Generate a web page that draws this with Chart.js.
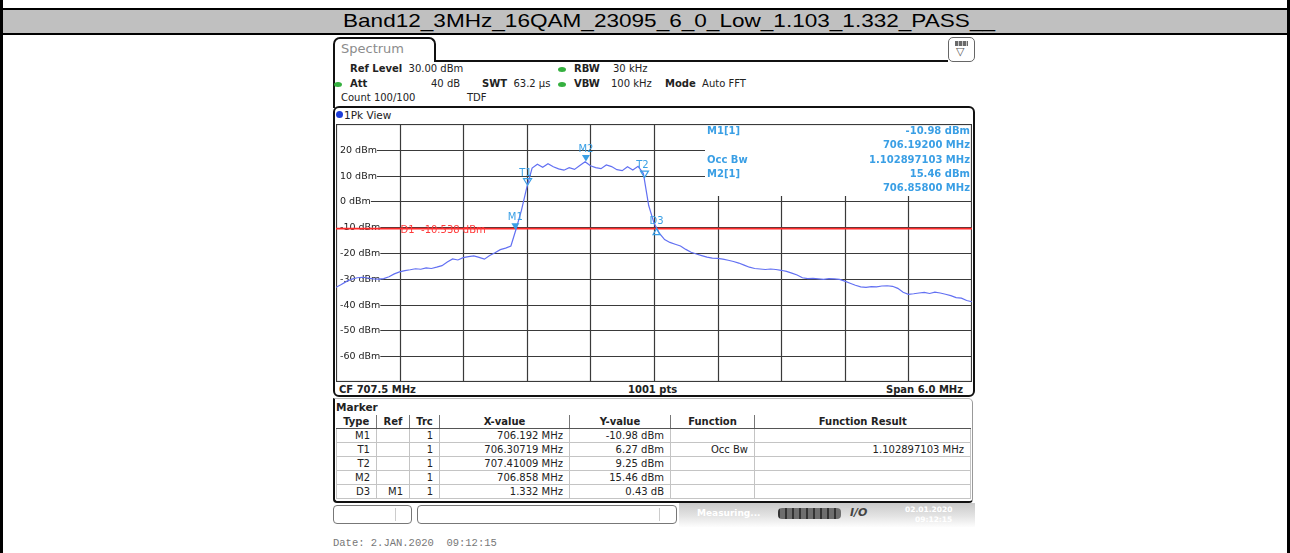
<!DOCTYPE html>
<html>
<head>
<meta charset="utf-8">
<title>Band12 occupied bandwidth</title>
<script src="https://cdn.jsdelivr.net/npm/chart.js@4.4.1/dist/chart.umd.min.js"></script>
<style>
  body { margin:0; width:1290px; height:553px; position:relative; overflow:hidden; background:#fff;
         font-family:"DejaVu Sans", Verdana, sans-serif; font-size:10px; color:#222; }
  .a { position:absolute; white-space:nowrap; }
  .b { font-weight:bold; }
  .hdr { height:14px; line-height:14px; }
  .dot { position:absolute; width:8px; height:5px; border-radius:50%; background:#35b03f; }
  #mk { position:absolute; left:336px; top:415px; border-collapse:collapse; table-layout:fixed; font-size:10px; }
  #mk td, #mk th { padding:0 6px 0 0; text-align:right; border:1px solid #c4c4c4; height:13px; line-height:13px; overflow:hidden; }
  #mk th { text-align:center; padding:0; border:none; border-left:1.5px solid #777; border-bottom:1.5px solid #555; }
  #mk th:first-child { border-left:none; }
</style>
</head>
<body>

<!-- report cell with the test name -->
<div class="a" style="left:0;top:10px;width:1290px;height:23px;background:#c0c0c0"></div>
<div class="a" style="left:0;top:8px;width:1290px;height:2px;background:#000"></div>
<div class="a" style="left:0;top:33px;width:1290px;height:2px;background:#000"></div>
<div id="title" class="a" style="left:343px;top:9px;height:24px;line-height:24px;font-family:'Liberation Sans',Arial,sans-serif;font-size:19px;color:#000;transform-origin:0 0">Band12_3MHz_16QAM_23095_6_0_Low_1.103_1.332_PASS__</div>
<div class="a" style="left:0;top:0;width:3px;height:553px;background:#000"></div>
<div class="a" style="left:1287px;top:0;width:3px;height:553px;background:#000"></div>

<!-- analyzer tab and settings -->
<div class="a" style="left:333px;top:37px;width:103px;height:25px;box-sizing:border-box;border:2px solid #111;border-bottom:none;border-radius:7px 7px 0 0;background:#fff"></div>
<div class="a" style="left:341px;top:41px;font-size:13px;color:#8c8c8c">Spectrum</div>
<div class="a" style="left:434px;top:60px;width:514px;height:2px;background:#111"></div>
<div class="a" style="left:333px;top:60px;width:2px;height:48px;background:#111"></div>
<div class="a" style="left:948px;top:37px;width:27px;height:25px;box-sizing:border-box;border:1.5px solid #666;border-radius:5px;background:#fff"></div>
<div class="a" style="left:955px;top:41px;width:13px;height:5px;background:repeating-linear-gradient(90deg,#6a6a6a 0 3px,#c8c8c8 3px 4px)"></div>
<div class="a" style="left:956px;top:45px;font-size:11px;color:#555">&#9661;</div>

<div class="a hdr" style="left:350px;top:62px"><span class="b">Ref Level</span>&nbsp; 30.00 dBm</div>
<div class="dot" style="left:558px;top:67px"></div>
<div class="a hdr b" style="left:574px;top:62px">RBW</div>
<div class="a hdr" style="left:613px;top:62px">30 kHz</div>

<div class="dot" style="left:334px;top:82px"></div>
<div class="a hdr b" style="left:350px;top:77px">Att</div>
<div class="a hdr" style="left:431px;top:77px">40 dB</div>
<div class="a hdr" style="left:482px;top:77px"><span class="b">SWT</span>&nbsp; 63.2 µs</div>
<div class="dot" style="left:558px;top:82px"></div>
<div class="a hdr b" style="left:574px;top:77px">VBW</div>
<div class="a hdr" style="left:611px;top:77px">100 kHz</div>
<div class="a hdr" style="left:665px;top:77px"><span class="b">Mode</span>&nbsp; Auto FFT</div>

<div class="a hdr" style="left:341px;top:91px">Count 100/100</div>
<div class="a hdr" style="left:467px;top:91px">TDF</div>

<!-- trace window -->
<div class="a" style="left:333px;top:106px;width:642px;height:291px;box-sizing:border-box;border:2px solid #111;border-radius:6px;background:#fff"></div>
<div class="a" style="left:336px;top:111px;width:7px;height:7px;border-radius:50%;background:#1c3bd8"></div>
<div class="a" style="left:344px;top:108px;font-size:10.5px;line-height:14px">1Pk View</div>
<canvas id="spec" class="a" style="left:336px;top:124px" width="636" height="258"></canvas>
<div class="a b" style="left:339px;top:383px;line-height:14px">CF 707.5 MHz</div>
<div class="a b" style="left:628px;top:383px;line-height:14px">1001 pts</div>
<div class="a b" style="left:886px;top:383px;line-height:14px">Span 6.0 MHz</div>

<!-- marker table window -->
<div class="a" style="left:333px;top:398px;width:640px;height:105px;box-sizing:border-box;border-left:2px solid #111;border-right:1.5px solid #999;border-top:1px solid #bbb;border-bottom:2px solid #111;border-radius:0 5px 4px 4px;background:#fff"></div>
<div class="a b" style="left:336px;top:400px;font-size:10.5px;line-height:14px">Marker</div>
<table id="mk"></table>

<!-- status bar -->
<div class="a" style="left:333px;top:505px;width:79px;height:19px;box-sizing:border-box;border:1px solid #777;border-radius:4px"></div>
<div class="a" style="left:395px;top:508px;width:1px;height:13px;background:#ccc"></div>
<div class="a" style="left:417px;top:505px;width:260px;height:19px;box-sizing:border-box;border:1px solid #777;border-radius:4px"></div>
<div class="a" style="left:659px;top:508px;width:1px;height:13px;background:#ccc"></div>
<div class="a" style="left:679px;top:503px;width:296px;height:24px;background:linear-gradient(#c9c9c9,#e4e4e4 55%,#fdfdfd)"></div>
<div class="a b" style="left:697px;top:508px;font-size:9px;color:#fff">Measuring...</div>
<div class="a" style="left:778px;top:508px;width:63px;height:11px;border-radius:4px;background:repeating-linear-gradient(90deg,#333 0 2px,#6e6e6e 2px 7px)"></div>
<div class="a b" style="left:850px;top:506px;font-size:11px;font-style:italic;color:#444">I/O</div>
<div class="a b" style="left:905px;top:505px;font-size:7.5px;color:#fff">02.01.2020</div>
<div class="a b" style="left:915px;top:515px;font-size:7.5px;color:#fff">09:12:15</div>

<div class="a" style="left:333px;top:537px;font-family:'Liberation Mono',monospace;font-size:10.5px;color:#777">Date: 2.JAN.2020&nbsp; 09:12:15</div>

<script>
// sweep settings
const freqStart = 704.5;   // MHz, CF 707.5 - span/2
const freqStop = 710.5;
const freqStep = 0.05;
const refLevel = 30;
const bottomLevel = -70;

// trace 1 (1Pk), resampled every 50 kHz, dBm
const traceLevels = [
  -33.3, -32.2, -31.0, -30.1, -29.6, -29.4, -29.7, -30.0, -30.1, -29.9,
  -29.2, -28.1, -27.3, -26.8, -26.5, -26.1, -26.3, -25.8, -26.0, -25.5,
  -24.9, -23.5, -22.3, -22.7, -21.8, -21.4, -21.1, -21.7, -22.4, -21.0,
  -19.9, -18.7, -18.1, -17.3, -10.6, -3.4, 5.4, 12.9, 14.4, 13.2,
  14.6, 13.4, 12.6, 12.1, 13.1, 12.4, 13.9, 15.4, 13.8, 13.1,
  12.7, 14.1, 13.5, 12.3, 11.9, 13.4, 12.2, 13.6, 10.8, -1.6,
  -8.4, -12.3, -14.8, -15.9, -16.6, -17.3, -18.6, -19.7, -20.4, -21.0,
  -21.6, -22.0, -22.1, -22.4, -22.8, -23.3, -23.9, -24.7, -25.5, -26.0,
  -26.2, -26.4, -26.2, -26.4, -26.7, -27.1, -27.8, -28.5, -29.6, -29.9,
  -29.8, -30.0, -30.2, -29.9, -30.0, -30.2, -30.9, -31.7, -32.5, -33.1,
  -33.3, -33.0, -33.1, -32.8, -32.7, -32.9, -33.7, -35.2, -36.0, -35.8,
  -35.5, -35.3, -35.7, -35.2, -35.5, -36.0, -36.5, -37.3, -37.5, -38.4,
  -38.9
];

// grid divisions
const xGrid = [705.1, 705.7, 706.3, 706.9, 707.5, 708.1, 708.7, 709.3, 709.9];
const yTicks = [20, 10, 0, -10, -20, -30, -40, -50, -60];

// marker table
const mkType = ['M1', 'T1', 'T2', 'M2', 'D3'];
const mkRef = ['', '', '', '', 'M1'];
const mkTrace = [1, 1, 1, 1, 1];
const mkX = [706.192, 706.30719, 707.41009, 706.858, 1.332];
const mkXDigits = [3, 5, 5, 3, 3];
const mkY = [-10.98, 6.27, 9.25, 15.46, 0.43];
const mkYUnit = ['dBm', 'dBm', 'dBm', 'dBm', 'dB'];
const mkFunc = ['', 'Occ Bw', '', '', ''];
const occBw = 1.102897103;   // MHz
const displayLineD1 = -10.538;

const markerBlue = '#3a9fe5';

// stretch the report title across its cell
const title = document.getElementById('title');
title.style.transform = 'scaleX(' + (652 / title.getBoundingClientRect().width) + ')';

// marker table rows
const colW = [40, 33, 30, 130, 101, 84, 216];
let html = '<colgroup>' + colW.map(w => '<col style="width:' + w + 'px">').join('') + '</colgroup>';
html += '<tr>' + ['Type', 'Ref', 'Trc', 'X-value', 'Y-value', 'Function', 'Function Result']
  .map(h => '<th>' + h + '</th>').join('') + '</tr>';
mkType.forEach((t, i) => {
  html += '<tr><td>' + t + '</td><td>' + mkRef[i] + '</td><td>' + mkTrace[i] + '</td>' +
    '<td>' + mkX[i].toFixed(mkXDigits[i]) + ' MHz</td>' +
    '<td>' + mkY[i].toFixed(2) + ' ' + mkYUnit[i] + '</td>' +
    '<td>' + mkFunc[i] + '</td>' +
    '<td>' + (mkFunc[i] ? occBw.toFixed(9) + ' MHz' : '') + '</td></tr>';
});
document.getElementById('mk').innerHTML = html;

// absolute marker positions (delta markers are relative to their reference)
function markerPos(i) {
  if (mkRef[i]) {
    const r = mkType.indexOf(mkRef[i]);
    return { f: mkX[r] + mkX[i], l: mkY[r] + mkY[i] };
  }
  return { f: mkX[i], l: mkY[i] };
}

const tracePoints = traceLevels.map((v, i) => ({ x: freqStart + i * freqStep, y: v }));

const overlay = {
  id: 'specOverlay',
  beforeDatasetsDraw(chart) {
    const { ctx, chartArea: a, scales: { x, y } } = chart;
    const boxLeft = a.right - 267;
    const boxBottom = a.top + 72;
    ctx.save();
    ctx.strokeStyle = '#3a3a3a';
    ctx.lineWidth = 1.2;
    const seg = (x1, y1, x2, y2) => { ctx.beginPath(); ctx.moveTo(x1, y1); ctx.lineTo(x2, y2); ctx.stroke(); };

    xGrid.forEach(f => {
      const px = Math.round(x.getPixelForValue(f)) + 0.5;
      seg(px, px > boxLeft ? boxBottom : a.top, px, a.bottom);
    });

    ctx.font = '9.5px "DejaVu Sans"';
    ctx.textBaseline = 'middle';
    ctx.fillStyle = '#222';
    yTicks.forEach(v => {
      const py = Math.round(y.getPixelForValue(v)) + 0.5;
      const label = v + ' dBm';
      ctx.fillText(label, a.left + 4, py);
      const start = a.left + 4 + ctx.measureText(label).width;
      seg(start, py, py < boxBottom ? boxLeft : a.right, py);
    });
    ctx.strokeRect(a.left + 0.5, a.top + 0.5, a.width - 1, a.height - 1);

    // display line D1
    const dy = y.getPixelForValue(displayLineD1);
    ctx.strokeStyle = '#ff2a2a';
    ctx.lineWidth = 1.6;
    seg(a.left, dy, a.right, dy);
    ctx.fillStyle = '#ff3a3a';
    ctx.font = '10px "DejaVu Sans"';
    ctx.fillText('D1  ' + displayLineD1.toFixed(3) + ' dBm', x.getPixelForValue(705.1) + 1, dy + 1.5);
    ctx.restore();
  },
  afterDatasetsDraw(chart) {
    const { ctx, chartArea: a, scales: { x, y } } = chart;
    ctx.save();
    ctx.fillStyle = markerBlue;
    ctx.strokeStyle = markerBlue;
    ctx.lineWidth = 1.2;
    ctx.font = '10px "DejaVu Sans"';
    ctx.textAlign = 'center';
    ctx.textBaseline = 'middle';
    mkType.forEach((t, i) => {
      const p = markerPos(i);
      const px = x.getPixelForValue(p.f);
      const py = y.getPixelForValue(p.l);
      ctx.beginPath();
      if (t[0] === 'D') {
        ctx.moveTo(px, py); ctx.lineTo(px - 3.5, py + 6); ctx.lineTo(px + 3.5, py + 6); ctx.closePath();
        ctx.stroke();
        ctx.fillText(t, px, py - 7);
      } else {
        ctx.moveTo(px, py); ctx.lineTo(px - 4, py - 6.5); ctx.lineTo(px + 4, py - 6.5); ctx.closePath();
        if (t[0] === 'M') ctx.fill(); else ctx.stroke();
        ctx.fillText(t, px - (t[0] === 'T' ? 2 : 0), py - 12);
      }
    });

    // marker readout block
    const m1 = markerPos(0), m2 = markerPos(3);
    const lx = a.right - 265, rx = a.right - 2;
    const rows = [a.top + 7, a.top + 21, a.top + 36, a.top + 50, a.top + 64];
    ctx.font = 'bold 10px "DejaVu Sans"';
    ctx.textAlign = 'left';
    ctx.fillText('M1[1]', lx, rows[0]);
    ctx.fillText('Occ Bw', lx, rows[2]);
    ctx.fillText('M2[1]', lx, rows[3]);
    ctx.textAlign = 'right';
    ctx.fillText(m1.l.toFixed(2) + ' dBm', rx, rows[0]);
    ctx.fillText(m1.f.toFixed(5) + ' MHz', rx, rows[1]);
    ctx.fillText(occBw.toFixed(9) + ' MHz', rx, rows[2]);
    ctx.fillText(m2.l.toFixed(2) + ' dBm', rx, rows[3]);
    ctx.fillText(m2.f.toFixed(5) + ' MHz', rx, rows[4]);
    ctx.restore();
  }
};

new Chart(document.getElementById('spec'), {
  type: 'line',
  data: {
    datasets: [{
      label: 'Trc 1',
      data: tracePoints,
      borderColor: '#6270f2',
      borderWidth: 1.2,
      pointRadius: 0,
      tension: 0
    }]
  },
  options: {
    responsive: false,
    animation: false,
    devicePixelRatio: 1,
    layout: { padding: 0 },
    scales: {
      x: { type: 'linear', min: freqStart, max: freqStop, display: false },
      y: { min: bottomLevel, max: refLevel, display: false }
    },
    plugins: { legend: { display: false }, tooltip: { enabled: false } }
  },
  plugins: [overlay]
});
</script>
</body>
</html>
